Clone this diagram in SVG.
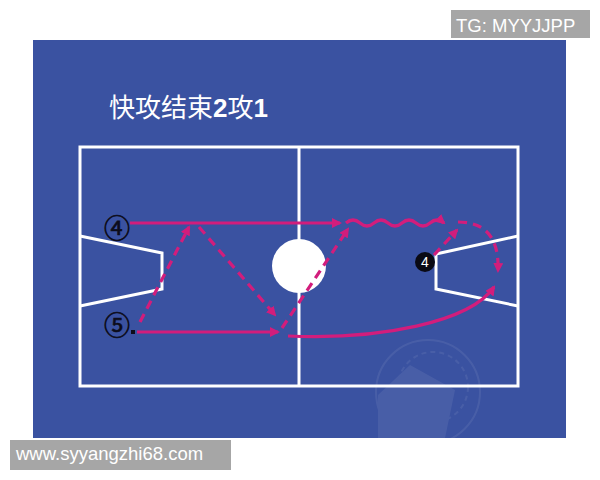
<svg xmlns="http://www.w3.org/2000/svg" width="600" height="480" viewBox="0 0 600 480">
<defs>
<style>
.court{fill:none;stroke:#ffffff;stroke-width:3;stroke-linejoin:miter}
.mv{fill:none;stroke:#d21d7c;stroke-width:3.2}
.dash{stroke-dasharray:9 6}
.lbl{font-family:"Noto Sans CJK SC","DejaVu Sans",sans-serif;fill:#0c0c1a;stroke:#0c0c1a;stroke-width:0.7}
.wm{font-family:"Liberation Sans",Arial,sans-serif;fill:#ffffff}
</style>
<marker id="ah" viewBox="0 0 10 10" refX="8" refY="5" markerWidth="10" markerHeight="10" markerUnits="userSpaceOnUse" orient="auto">
<path d="M0,0 L10,5 L0,10 z" fill="#d21d7c"/>
</marker>
</defs>
<rect x="0" y="0" width="600" height="480" fill="#ffffff"/>
<rect x="33" y="40" width="533" height="398" fill="#3a52a1"/>
<g id="watermark-icon" opacity="0.07" fill="none" stroke="#ffffff" stroke-width="2">
<circle cx="428" cy="392" r="52"/>
<circle cx="433" cy="387" r="35" stroke-dasharray="5 4"/>
<path d="M378 395 L410 365 L455 390 L445 438 L378 438 z" fill="#ffffff" stroke="none"/>
</g>
<g id="title"><text x="109" y="117" font-family="'Noto Sans CJK SC','Liberation Sans',sans-serif" font-size="26" fill="#ffffff">快攻结束<tspan font-family="'Liberation Sans',Arial,sans-serif" font-weight="bold">2</tspan>攻<tspan font-family="'Liberation Sans',Arial,sans-serif" font-weight="bold">1</tspan></text></g>
<g id="court">
<rect class="court" x="80" y="147" width="438" height="239"/>
<line class="court" x1="299" y1="147" x2="299" y2="386"/>
<circle cx="299" cy="266" r="27" fill="#ffffff"/>
<path class="court" d="M80 236 L162 253 L162 289 L80 306"/>
<path class="court" d="M518 236 L436 254 L436 289 L518 306"/>
</g>
<g id="connectors">
<path class="mv" d="M130 223 H340" marker-end="url(#ah)"/>
<path class="mv" d="M346 223 Q353 217 360 223 T374 223 T388 223 T402 223 T416 223 T430 223 T444 223" marker-end="url(#ah)"/>
<path class="mv dash" d="M140 322 L189 227" marker-end="url(#ah)"/>
<path class="mv dash" d="M199 227 L275 315" marker-end="url(#ah)"/>
<path class="mv" d="M137 332 H278" marker-end="url(#ah)"/>
<path class="mv dash" d="M282 328 L348 229" marker-end="url(#ah)"/>
<path class="mv" d="M288 336 C380 340 470 322 494 287" marker-end="url(#ah)"/>
<path class="mv dash" d="M434 255 L457 230" marker-end="url(#ah)"/>
<path class="mv dash" d="M458 222 Q500 222 498 271" marker-end="url(#ah)"/>
</g>
<g id="p4-left"><text class="lbl" x="117" y="238" font-size="26" text-anchor="middle">④</text></g>
<g id="p5-left"><text class="lbl" x="117" y="335" font-size="26" text-anchor="middle">⑤</text><rect x="131" y="330" width="4" height="4" fill="#0c0c1a"/></g>
<g id="p4-right"><circle cx="425" cy="262" r="10" fill="#0a0a14"/><text x="425" y="267" font-family="'Liberation Sans',Arial,sans-serif" font-size="14" fill="#ffffff" text-anchor="middle">4</text></g>
<g id="tag-tg"><rect x="451" y="10" width="139" height="28" fill="#a6a6a6"/><text class="wm" x="456" y="32" font-size="18.5">TG: MYYJJPP</text></g>
<g id="tag-url"><rect x="10" y="440" width="221" height="30" fill="#a6a6a6"/><text class="wm" x="16" y="460" font-size="18.5">www.syyangzhi68.com</text></g>
</svg>
